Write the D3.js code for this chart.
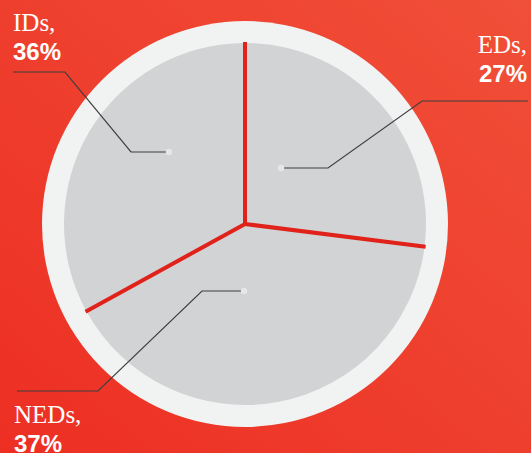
<!DOCTYPE html>
<html>
<head>
<meta charset="utf-8">
<script src="https://cdn.jsdelivr.net/npm/d3@7"></script>
<style>
  html, body { margin: 0; padding: 0; overflow: hidden; }
  svg { display: block; }
</style>
</head>
<body>
<div id="chart"></div>
<script>
// slices in drawing order, clockwise from 12 o'clock
const categories = ['EDs', 'NEDs', 'IDs'];
const labelPercents = [27, 37, 36];
const sliceShares = [27, 40, 33];

const width = 531;
const height = 453;
const cx = 245;
const cy = 224;
const outerR = 203;
const innerR = 181;

// leader lines: dot, two elbows, end (offsets from the pie centre), and label anchor
const leaders = {
  IDs:  { pts: [[-76, -72], [-114, -72], [-180, -152], [-232, -152]], tx: 13, ty: 31, anchor: 'start' },
  EDs:  { pts: [[36, -56], [83, -56], [177, -123], [283, -123]], tx: 527, ty: 53, anchor: 'end' },
  NEDs: { pts: [[-1, 67], [-43, 67], [-147, 167], [-228, 167]], tx: 14, ty: 423, anchor: 'start' }
};

const svg = d3.select('#chart')
  .append('svg')
  .attr('width', width)
  .attr('height', height);

const defs = svg.append('defs');
const bg = defs.append('linearGradient')
  .attr('id', 'bg-gradient')
  .attr('x1', '100%')
  .attr('y1', '0%')
  .attr('x2', '0%')
  .attr('y2', '100%');
bg.append('stop').attr('offset', '0%').attr('stop-color', '#f04f38');
bg.append('stop').attr('offset', '100%').attr('stop-color', '#ed2f23');

svg.append('rect')
  .attr('width', width)
  .attr('height', height)
  .attr('fill', 'url(#bg-gradient)');

const g = svg.append('g')
  .attr('transform', `translate(${cx}, ${cy})`);

// outer ring
g.append('circle')
  .attr('r', outerR)
  .attr('fill', '#f1f2f2');

const data = categories.map((c, i) => ({ name: c, share: sliceShares[i], pct: labelPercents[i] }));

const pie = d3.pie()
  .value(d => d.share)
  .sort(null)
  .startAngle(0)
  .endAngle(2 * Math.PI);

const arcs = pie(data);

const arc = d3.arc()
  .innerRadius(0)
  .outerRadius(innerR);

g.selectAll('path.slice')
  .data(arcs)
  .enter()
  .append('path')
  .attr('class', 'slice')
  .attr('fill', '#d1d3d4')
  .attr('d', arc);

// red dividers along each slice start
g.selectAll('line.divider')
  .data(arcs)
  .enter()
  .append('line')
  .attr('class', 'divider')
  .attr('x1', 0)
  .attr('y1', 0)
  .attr('x2', d => Math.sin(d.startAngle) * (innerR + 1))
  .attr('y2', d => -Math.cos(d.startAngle) * (innerR + 1))
  .attr('stroke', '#e0221b')
  .attr('stroke-width', 4)
  .attr('stroke-linecap', 'butt');

g.append('circle')
  .attr('r', 2)
  .attr('fill', '#e0221b');

// leader lines and dots
const line = d3.line();

data.forEach(d => {
  const l = leaders[d.name];
  g.append('path')
    .attr('d', line(l.pts))
    .attr('fill', 'none')
    .attr('stroke', '#3f3f41')
    .attr('stroke-width', 1.2);

  g.append('circle')
    .attr('cx', l.pts[0][0])
    .attr('cy', l.pts[0][1])
    .attr('r', 3.2)
    .attr('fill', '#e6e7e8');

  const t = svg.append('text')
    .attr('x', l.tx)
    .attr('y', l.ty)
    .attr('text-anchor', l.anchor)
    .attr('fill', '#ffffff');

  t.append('tspan')
    .attr('x', l.tx)
    .style('font-family', '"Liberation Serif", serif')
    .style('font-size', '25px')
    .text(`${d.name},`);

  t.append('tspan')
    .attr('x', l.tx)
    .attr('dy', 29)
    .style('font-family', '"Liberation Sans", sans-serif')
    .style('font-weight', 'bold')
    .style('font-size', '24px')
    .text(`${d.pct}%`);
});
</script>
</body>
</html>
